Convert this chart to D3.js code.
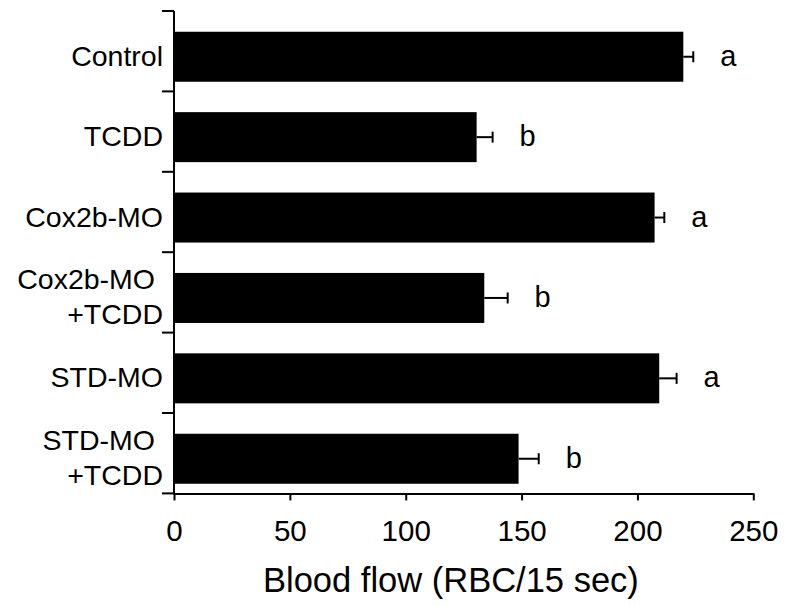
<!DOCTYPE html>
<html>
<head>
<meta charset="utf-8">
<script src="https://cdn.jsdelivr.net/npm/d3@7"></script>
<style>
  body { margin: 0; background: #fff; }
  svg { display: block; font-family: "Liberation Sans", Arial, sans-serif; }
</style>
</head>
<body>
<div id="chart"></div>
<script>
// Groups (top to bottom), mean blood flow, error and significance letter
var groups = ["Control", "TCDD", "Cox2b-MO", "Cox2b-MO\n+TCDD", "STD-MO", "STD-MO\n+TCDD"];
var means = [219.8, 130.6, 207.4, 133.9, 209.4, 148.7];
var errors = [4.3, 6.9, 4.2, 10.1, 7.5, 8.7];
var letters = ["a", "b", "a", "b", "a", "b"];
var xTicks = [0, 50, 100, 150, 200, 250];

var width = 788, height = 606;
var plotLeft = 174, plotRight = 753.3, plotTop = 11, plotBottom = 493.4;

var data = groups.map(function (g, i) {
    return { group: g, mean: means[i], err: errors[i], letter: letters[i] };
});

var svg = d3.select("#chart").append("svg")
    .attr("width", width)
    .attr("height", height);

var x = d3.scaleLinear().domain([0, 250]).range([plotLeft, plotRight]);
var y = d3.scaleBand().domain(groups).range([plotTop, plotBottom]);
var bw = y.bandwidth();

// bars
svg.selectAll("rect.bar")
    .data(data).enter()
    .append("rect")
    .attr("class", "bar")
    .attr("x", x(0))
    .attr("y", function (d) { return y(d.group) + bw * 0.258; })
    .attr("width", function (d) { return x(d.mean) - x(0); })
    .attr("height", bw * 0.622)
    .style("fill", "#000");

// error bars
var barMid = function (d) { return y(d.group) + bw * 0.258 + bw * 0.311; };
svg.selectAll("line.err")
    .data(data).enter()
    .append("line")
    .attr("class", "err")
    .attr("x1", function (d) { return x(d.mean); })
    .attr("x2", function (d) { return x(d.mean + d.err); })
    .attr("y1", barMid)
    .attr("y2", barMid)
    .style("stroke", "#000")
    .style("stroke-width", 2);

svg.selectAll("line.cap")
    .data(data).enter()
    .append("line")
    .attr("class", "cap")
    .attr("x1", function (d) { return x(d.mean + d.err); })
    .attr("x2", function (d) { return x(d.mean + d.err); })
    .attr("y1", function (d) { return barMid(d) - 5.5; })
    .attr("y2", function (d) { return barMid(d) + 5.5; })
    .style("stroke", "#000")
    .style("stroke-width", 2);

// significance letters
svg.selectAll("text.letter")
    .data(data).enter()
    .append("text")
    .attr("class", "letter")
    .attr("x", function (d) { return x(d.mean + d.err) + 35; })
    .attr("y", function (d) { return barMid(d) + 9; })
    .style("text-anchor", "middle")
    .style("font-size", "29px")
    .text(function (d) { return d.letter; });

// x axis
var xAxis = svg.append("g")
    .attr("transform", "translate(0," + plotBottom + ")")
    .call(d3.axisBottom(x).tickValues(xTicks).tickSize(7).tickSizeOuter(0).tickPadding(20));
xAxis.select(".domain").style("stroke-width", 2);
xAxis.selectAll(".tick line").style("stroke-width", 2);
xAxis.selectAll(".tick text")
    .style("font-size", "29.5px")
    .style("font-family", "'Liberation Sans', Arial, sans-serif")
    .attr("fill", "#000");

// y axis line and ticks between groups
svg.append("line")
    .attr("x1", plotLeft).attr("x2", plotLeft)
    .attr("y1", plotTop).attr("y2", plotBottom + 1)
    .style("stroke", "#000")
    .style("stroke-width", 2);

var boundaries = groups.map(function (g) { return y(g); }).concat([plotBottom]);
svg.selectAll("line.ytick")
    .data(boundaries).enter()
    .append("line")
    .attr("class", "ytick")
    .attr("x1", plotLeft - 12).attr("x2", plotLeft)
    .attr("y1", function (d) { return d; })
    .attr("y2", function (d) { return d; })
    .style("stroke", "#000")
    .style("stroke-width", 2);

// category labels
var labels = svg.selectAll("text.cat")
    .data(data).enter()
    .append("text")
    .attr("class", "cat")
    .style("text-anchor", "end")
    .style("font-size", "28.5px");

labels.each(function (d) {
    var lines = d.group.split("\n");
    var mid = barMid(d);
    var t = d3.select(this);
    if (lines.length === 1) {
        t.append("tspan").attr("x", 163).attr("y", mid + 9).text(lines[0]);
    } else {
        t.append("tspan").attr("x", 155).attr("y", mid - 9).text(lines[0]);
        t.append("tspan").attr("x", 163).attr("y", mid + 26.5).text(lines[1]);
    }
});

// axis title
svg.append("text")
    .attr("x", 263)
    .attr("y", 591.5)
    .style("font-size", "34.5px")
    .text("Blood flow (RBC/15 sec)");
</script>
</body>
</html>
